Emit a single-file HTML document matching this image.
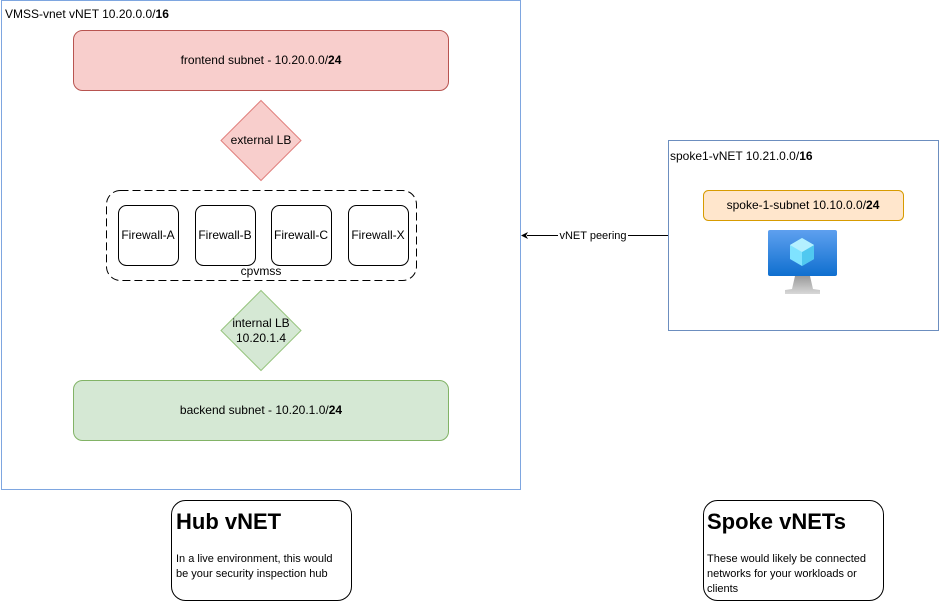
<!DOCTYPE html>
<html><head><meta charset="utf-8"><style>
html,body{margin:0;padding:0;background:#fff;}
svg{display:block;font-family:"Liberation Sans",Arial,sans-serif;}
</style></head><body>
<svg width="939" height="604" viewBox="0 0 939 604" xmlns="http://www.w3.org/2000/svg">
<defs>
<linearGradient id="scr" x1="0" y1="0" x2="0" y2="1"><stop offset="0" stop-color="#5ea0ef"/><stop offset="1" stop-color="#0f6fcf"/></linearGradient>
<linearGradient id="stand" x1="0" y1="0" x2="0" y2="1"><stop offset="0" stop-color="#9a9a9a"/><stop offset="1" stop-color="#d8d8d8"/></linearGradient>
</defs>
<!-- hub vnet -->
<rect x="1.5" y="0.5" width="519" height="489" fill="#fff" stroke="#7ea6e0"/>
<text x="5" y="18" font-size="12">VMSS-vnet vNET 10.20.0.0/<tspan font-weight="bold">16</tspan></text>
<rect x="73.5" y="30.5" width="375" height="60" rx="9" fill="#f8cecc" stroke="#b85450"/>
<text x="261" y="64" font-size="12" text-anchor="middle">frontend subnet - 10.20.0.0/<tspan font-weight="bold">24</tspan></text>
<polygon points="261,100.5 301,140.5 261,180.5 221,140.5" fill="#f8cecc" stroke="#e07f7c"/>
<text x="261" y="144" font-size="12" text-anchor="middle">external LB</text>
<rect x="106.5" y="190.5" width="310" height="90" rx="14" fill="none" stroke="#000" stroke-dasharray="8,4"/>
<g font-size="12" text-anchor="middle" fill="#000">
<rect x="118.5" y="205.5" width="60" height="60" rx="8" fill="#fff" stroke="#000"/>
<text x="148" y="239">Firewall-A</text>
<rect x="195.5" y="205.5" width="60" height="60" rx="8" fill="#fff" stroke="#000"/>
<text x="225" y="239">Firewall-B</text>
<rect x="271.5" y="205.5" width="60" height="60" rx="8" fill="#fff" stroke="#000"/>
<text x="301" y="239">Firewall-C</text>
<rect x="348.5" y="205.5" width="60" height="60" rx="8" fill="#fff" stroke="#000"/>
<text x="378" y="239">Firewall-X</text>
<text x="261" y="275">cpvmss</text>
</g>
<polygon points="261,290.5 301,330.5 261,370.5 221,330.5" fill="#d5e8d4" stroke="#97c47e"/>
<text x="261" y="327" font-size="12" text-anchor="middle">internal LB</text>
<text x="261" y="342" font-size="12" text-anchor="middle">10.20.1.4</text>
<rect x="73.5" y="380.5" width="375" height="60" rx="9" fill="#d5e8d4" stroke="#82b366"/>
<text x="261" y="414" font-size="12" text-anchor="middle">backend subnet - 10.20.1.0/<tspan font-weight="bold">24</tspan></text>
<!-- spoke -->
<rect x="668.5" y="140.5" width="270" height="190" fill="#fff" stroke="#6c8ebf"/>
<text x="670" y="160" font-size="12">spoke1-vNET 10.21.0.0/<tspan font-weight="bold">16</tspan></text>
<rect x="703.5" y="190.5" width="200" height="30" rx="5" fill="#ffe6cc" stroke="#d79b00"/>
<text x="803" y="209" font-size="12" text-anchor="middle">spoke-1-subnet 10.10.0.0/<tspan font-weight="bold">24</tspan></text>
<rect x="768" y="230" width="69" height="46" rx="2" fill="url(#scr)"/>
<polygon points="802,238 814,245 814,259 802,266 790,259 790,245" fill="#7fe3ff"/>
<polygon points="802,252 814,245 814,259 802,266" fill="#50c8f0"/>
<polygon points="790,245 802,238 814,245 802,252" fill="#b4f0ff"/>
<polygon points="795,276 810,276 813,289 820,290 820,294 785,294 785,290 792,289" fill="url(#stand)"/>
<!-- arrow -->
<line x1="668" y1="235.5" x2="527" y2="235.5" stroke="#000"/>
<polygon points="521,235.5 528,232 526,235.5 528,239" fill="#000"/>
<rect x="558" y="229" width="70" height="13" fill="#fff"/>
<text x="593" y="239" font-size="11" text-anchor="middle">vNET peering</text>
<!-- notes -->
<rect x="171.5" y="500.5" width="180" height="100" rx="14" fill="#fff" stroke="#000"/>
<text x="176" y="529" font-size="22" font-weight="bold">Hub vNET</text>
<text x="176" y="562" font-size="11">In a live environment, this would</text>
<text x="176" y="577" font-size="11">be your security inspection hub</text>
<rect x="703.5" y="500.5" width="180" height="100" rx="14" fill="#fff" stroke="#000"/>
<text x="707" y="529" font-size="22" font-weight="bold">Spoke vNETs</text>
<text x="707" y="562" font-size="11">These would likely be connected</text>
<text x="707" y="577" font-size="11">networks for your workloads or</text>
<text x="707" y="592" font-size="11">clients</text>
</svg>
</body></html>
